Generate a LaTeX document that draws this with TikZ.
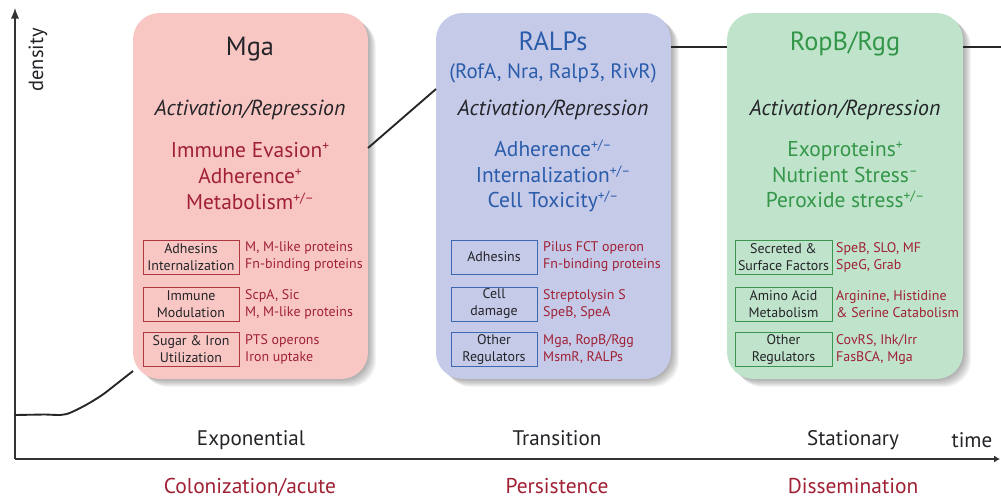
\documentclass[tikz,border=0pt]{standalone}
\usepackage{fontspec}
\setmainfont{PT Sans}
\usetikzlibrary{arrows.meta}
\newcommand\supmark[1]{\raisebox{5.2pt}{\fontsize{11.5}{12}\selectfont #1}}
\definecolor{pinkfill}{RGB}{248,199,195}
\definecolor{bluefill}{RGB}{197,202,233}
\definecolor{greenfill}{RGB}{191,228,203}
\definecolor{dred}{RGB}{160,32,52}
\definecolor{dblue}{RGB}{42,92,170}
\definecolor{dgreen}{RGB}{52,150,72}
\definecolor{bred}{RGB}{175,55,65}
\definecolor{bblue}{RGB}{60,105,175}
\definecolor{bgreen}{RGB}{60,150,80}
\definecolor{txt}{RGB}{35,35,40}
\tikzset{
  x=0.03cm,y=-0.03cm,
  bigbox/.style={rounded corners=0.8cm},
  titletext/.style={font=\fontsize{22.5}{26}\selectfont,anchor=base},
  acttext/.style={font=\fontsize{18.6}{22}\selectfont\itshape,text=txt,anchor=base},
  itemtext/.style={font=\fontsize{18.3}{22}\selectfont,anchor=base},
  subtitle/.style={font=\fontsize{17.8}{21}\selectfont,anchor=base},
  catbox/.style={draw,line width=0.8pt,minimum width=2.88cm,minimum height=1.02cm,inner sep=0pt,align=center,text=txt,font=\fontsize{11.9}{14.5}\selectfont},
  gentext/.style={anchor=west,align=left,inner sep=0pt,text=dred,font=\fontsize{11.9}{14.5}\selectfont},
  curve/.style={line width=1.6pt,black!85},
  axis/.style={line width=1pt,black!80},
  phase/.style={font=\fontsize{18}{21}\selectfont,text=txt,anchor=base},
  stage/.style={font=\fontsize{18.3}{21}\selectfont,text=dred,anchor=base},
}
\begin{document}
\begin{tikzpicture}
\useasboundingbox (0,0) rectangle (1001,497);
% shadows
\foreach \l/\r in {133/368,436/671,727/963}{
  \foreach \i in {1,...,9}{
    \fill[black,opacity=0.04,rounded corners=0.8cm] (\l+1+0.9*\i,13+0.8*\i) rectangle (\r+0.9*\i,379+0.9*\i);
  }
}
% boxes
\fill[pinkfill,bigbox] (133,13) rectangle (368,379);
\fill[bluefill,bigbox] (436,13) rectangle (671,379);
\fill[greenfill,bigbox] (727,13) rectangle (963,379);
\coordinate (mgaSW) at (133,371);
\coordinate (mgaE) at (368,148);
\coordinate (ralpW) at (436,89);
\coordinate (ralpE) at (671,47);
\coordinate (ropW) at (727,47);
\coordinate (ropE) at (963,47);
\coordinate (rightEnd) at (1001,47);
% axes
\coordinate (origin) at (15,459);
\coordinate (ytop) at (15,8);
\coordinate (xend) at (1000,459);
\draw[axis,-{Latex[length=9pt,width=7pt]}] (origin) -- (ytop);
\draw[axis,-{Latex[length=5pt,width=6pt]}] (origin) -- (xend);
\node[rotate=90,anchor=base,font=\fontsize{17.5}{20}\selectfont,text=txt] (density) at (43,60) {density};
% growth curve
\draw[curve] (15,415) -- (45,414.5) .. controls (60,415) and (63,416) .. (72,412) .. controls (85,406) and (95,400) .. (105,393) -- (mgaSW);
\draw[curve] (mgaE) -- (ralpW);
\draw[curve] (ralpE) -- (ropW);
\draw[curve] (ropE) -- (rightEnd);
% Mga
\node[titletext,text=txt] (mgaT) at (250,55) {Mga};
\node[acttext] (mgaA) at (250,115) {Activation/Repression};
\node[itemtext,text=dred] (mga1) at (250,157) {Immune Evasion\supmark{+}};
\node[itemtext,text=dred] (mga2) at (250,183) {Adherence\supmark{+}};
\node[itemtext,text=dred] (mga3) at (250,209) {Metabolism\supmark{+/–}};
\node[catbox,draw=bred] (mgab1) at (191,257) {Adhesins\\Internalization};
\node[catbox,draw=bred] (mgab2) at (191,304) {Immune\\Modulation};
\node[catbox,draw=bred] (mgab3) at (191,349.5) {Sugar \& Iron\\Utilization};
\node[gentext] (mgag1) at (245,257) {M, M-like proteins\\Fn-binding proteins};
\node[gentext] (mgag2) at (245,304) {ScpA, Sic\\M, M-like proteins};
\node[gentext] (mgag3) at (245,349.5) {PTS operons\\Iron uptake};
% RALPs
\node[titletext,text=dblue] (ralT) at (553,50) {RALPs};
\node[subtitle,text=dblue] (ralS) at (553,78) {(RofA, Nra, Ralp3, RivR)};
\node[acttext] (ralA) at (553,115) {Activation/Repression};
\node[itemtext,text=dblue] (ral1) at (553,156) {Adherence\supmark{+/–}};
\node[itemtext,text=dblue] (ral2) at (553,182) {Internalization\supmark{+/–}};
\node[itemtext,text=dblue] (ral3) at (553,207) {Cell Toxicity\supmark{+/–}};
\node[catbox,draw=bblue,minimum width=2.58cm] (ralb1) at (494,257) {Adhesins};
\node[catbox,draw=bblue,minimum width=2.58cm] (ralb2) at (494,304) {Cell\\damage};
\node[catbox,draw=bblue,minimum width=2.58cm] (ralb3) at (494,349.5) {Other\\Regulators};
\node[gentext] (ralg1) at (543,257) {Pilus FCT operon\\Fn-binding proteins};
\node[gentext] (ralg2) at (543,304) {Streptolysin S\\SpeB, SpeA};
\node[gentext] (ralg3) at (543,349.5) {Mga, RopB/Rgg\\MsmR, RALPs};
% RopB/Rgg
\node[titletext,text=dgreen] (ropT) at (845,50) {RopB/Rgg};
\node[acttext] (ropA) at (845,115) {Activation/Repression};
\node[itemtext,text=dgreen] (rop1) at (845,156) {Exoproteins\supmark{+}};
\node[itemtext,text=dgreen] (rop2) at (845,182) {Nutrient Stress\supmark{–}};
\node[itemtext,text=dgreen] (rop3) at (845,207) {Peroxide stress\supmark{+/–}};
\node[catbox,draw=bgreen,minimum width=2.91cm] (ropb1) at (783.5,257) {Secreted \&\\Surface Factors};
\node[catbox,draw=bgreen,minimum width=2.91cm] (ropb2) at (783.5,304) {Amino Acid\\Metabolism};
\node[catbox,draw=bgreen,minimum width=2.91cm] (ropb3) at (783.5,349.5) {Other\\Regulators};
\node[gentext] (ropg1) at (836,257) {SpeB, SLO, MF\\SpeG, Grab};
\node[gentext] (ropg2) at (836,304) {Arginine, Histidine\\\& Serine Catabolism};
\node[gentext] (ropg3) at (836,349.5) {CovRS, Ihk/Irr\\FasBCA, Mga};
% phases
\node[phase] (p1) at (251,445) {Exponential};
\node[phase] (p2) at (557,445) {Transition};
\node[phase] (p3) at (853,445) {Stationary};
\node[phase] (ptime) at (972,447) {time};
\node[stage] (s1) at (250,493) {Colonization/acute};
\node[stage] (s2) at (557,493) {Persistence};
\node[stage] (s3) at (853,493) {Dissemination};
\end{tikzpicture}
\end{document}
